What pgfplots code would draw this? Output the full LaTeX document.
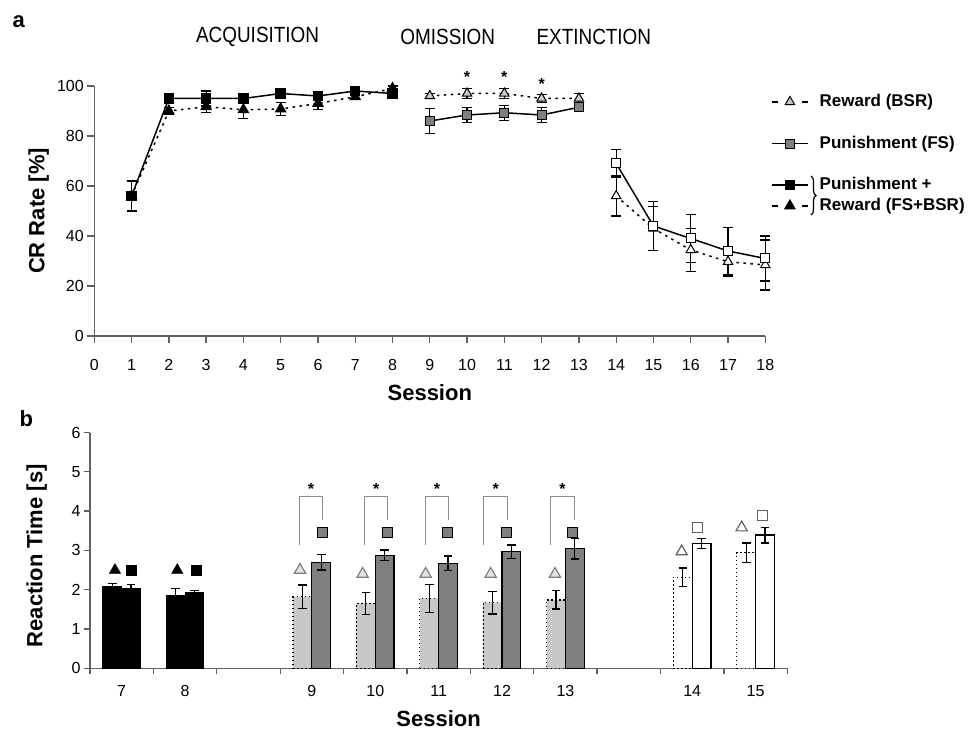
\documentclass[border=0pt]{standalone}
\usepackage{fontspec}
\setmainfont{Liberation Sans}
\newfontfamily\narrowfont[FakeStretch=0.86]{Liberation Sans}
\usepackage{pgfplots}
\pgfplotsset{compat=1.18}
\usetikzlibrary{decorations.pathreplacing}
\newcommand\tickfont{\fontsize{16}{18}\selectfont}
\newcommand\labfont{\bfseries\fontsize{22}{24}\selectfont}
\newcommand\legfont{\bfseries\fontsize{17}{19}\selectfont}
\definecolor{lgrey}{HTML}{C8C8C8}
\definecolor{dgrey}{HTML}{7F7F7F}
\definecolor{axgrey}{HTML}{606060}
\definecolor{brgrey}{HTML}{8C8C8C}
\pgfplotsset{
  myaxis/.style={scale only axis, axis lines=left,
    axis line style={-, line width=1.3pt, axgrey},
    tick align=outside, tick style={line width=1.3pt, axgrey}, major tick length=7pt,
    ticklabel style={font=\tickfont, black}, label style={font=\labfont, inner sep=0pt}, clip=false,
    /pgf/number format/assume math mode=true},
  dotline/.style={line width=1.5pt, dash pattern=on 2.5pt off 4.5pt},
  solline/.style={line width=1.5pt, solid},
  eb/.style={/pgfplots/error bars/y dir=both, /pgfplots/error bars/y explicit,
    /pgfplots/error bars/error bar style={solid, line width=1.2pt, black},
    /pgfplots/error bars/error mark options={rotate=90, solid, line width=1.2pt, black, mark size=#1}},
  eb/.default=5pt,
}
\begin{document}
\begin{tikzpicture}
\useasboundingbox (0,0) rectangle (971pt,731pt);
% ---------------- panel a ----------------
\begin{axis}[myaxis, at={(94.3pt,395pt)}, anchor=south west, width=671pt, height=250pt,
  xmin=0, xmax=18, ymin=0, ymax=100, xtick={0,...,18}, ytick={0,20,...,100},
  x tick label style={text height=11.5pt, text depth=0pt, yshift=-12pt},
  xlabel={Session}, ylabel={CR Rate [\%]},
  xlabel style={at={(axis description cs:0.5,-0.225)}, anchor=center},
  ylabel style={at={(axis description cs:-0.083,0.5)}, anchor=center},
  legend style={at={(axis description cs:1.004,0.977)}, anchor=north west, draw=none, fill=none,
    font=\legfont, row sep=4.8pt, nodes={inner sep=0pt, text height=12.5pt, text depth=3.5pt},
    /tikz/every odd column/.append style={column sep=11pt}},
  legend cell align=left,
  legend image code/.code={\draw[mark repeat=2,mark phase=2,#1] plot coordinates {(0pt,0pt) (18pt,0pt) (36pt,0pt)};},
]
\addlegendimage{black, line width=1.5pt, dash pattern=on 6pt off 24pt, mark=triangle*, mark size=5.5pt, mark options={solid, fill=lgrey, draw=black, line width=1pt}}
\addlegendentry{Reward (BSR)}
\addlegendimage{empty legend}\addlegendentry{}
\addlegendimage{black, solline, mark=square*, mark size=4.5pt, mark options={fill=dgrey, draw=black, line width=1pt}}
\addlegendentry{Punishment (FS)}
\addlegendimage{empty legend}\addlegendentry{}
\addlegendimage{black, solline, mark=square*, mark size=4.5pt, mark options={fill=black, draw=black}}
\addlegendentry{Punishment +}
\addlegendimage{black, line width=1.5pt, dash pattern=on 6pt off 24pt, mark=triangle*, mark size=5.5pt, mark options={solid, fill=black, draw=black}}
\addlegendentry{Reward (FS+BSR)}

% acquisition: FS+BSR triangles
\addplot[forget plot, black, dotline, mark=triangle*, mark size=5.5pt, mark options={solid, fill=black}, eb]
 coordinates {(1,56) +- (0,6) (2,90) +- (0,1.5) (3,91.7) +- (0,2.3) (4,90.5) +- (0,3.5) (5,90.8) +- (0,2.5) (6,93) +- (0,2.5) (7,95.7) +- (0,1) (8,99) +- (0,1)};
% acquisition: FS+BSR squares
\addplot[forget plot, black, solline, mark=square*, mark size=4.5pt, mark options={solid, fill=black}, eb]
 coordinates {(1,56) +- (0,6) (2,95) +- (0,1.5) (3,95) +- (0,3) (4,95) +- (0,1.5) (5,97) +- (0,1) (6,96) +- (0,1.5) (7,98) +- (0,1) (8,97) +- (0,1.5)};
% omission: BSR triangles
\addplot[forget plot, black, dotline, mark=triangle*, mark size=5.5pt, mark options={solid, fill=lgrey, draw=black, line width=1pt}, eb]
 coordinates {(9,96) +- (0,1) (10,97) +- (0,2) (11,97) +- (0,2) (12,95) +- (0,1.5) (13,95) +- (0,2)};
% omission: FS squares
\addplot[forget plot, black, solline, mark=square*, mark size=4.5pt, mark options={solid, fill=dgrey, draw=black, line width=1pt}, eb]
 coordinates {(9,86) +- (0,5) (10,88.4) +- (0,3) (11,89.3) +- (0,3) (12,88.4) +- (0,3) (13,91.5) +- (0,1.5)};
% extinction: triangles
\addplot[forget plot, black, dotline, mark=triangle*, mark size=5.5pt, mark options={solid, fill=white, draw=black, line width=1pt}, eb]
 coordinates {(14,56) +- (0,8) (15,43) +- (0,8.8) (16,34.4) +- (0,8.6) (17,29.7) +- (0,5.7) (18,28.4) +- (0,10)};
% extinction: squares
\addplot[forget plot, black, solline, mark=square*, mark size=4.5pt, mark options={solid, fill=white, draw=black, line width=1pt}, eb]
 coordinates {(14,69) +- (0,5.5) (15,44) +- (0,9.8) (16,39) +- (0,9.5) (17,34) +- (0,9.5) (18,31) +- (0,9)};

\node[font=\narrowfont\fontsize{22}{24}\selectfont] at (axis cs:4.38,119.5) {ACQUISITION};
\node[font=\narrowfont\fontsize{22}{24}\selectfont] at (axis cs:9.48,119.5) {OMISSION};
\node[font=\narrowfont\fontsize{22}{24}\selectfont] at (axis cs:13.4,119.5) {EXTINCTION};
\node[font=\bfseries\fontsize{16}{16}\selectfont] at (axis cs:10,103.5) {*};
\node[font=\bfseries\fontsize{16}{16}\selectfont] at (axis cs:11,103.5) {*};
\node[font=\bfseries\fontsize{16}{16}\selectfont] at (axis cs:12,100.8) {*};
\end{axis}
\draw[line width=1.2pt, decorate, decoration={brace, amplitude=5pt}] (811pt,555pt) -- (811pt,516pt);
\node[anchor=base west, font=\bfseries\fontsize{22}{24}\selectfont] at (9pt,703pt) {a};
\node[anchor=base west, font=\bfseries\fontsize{22}{24}\selectfont] at (16pt,304pt) {b};
% ---------------- panel b ----------------
\begin{axis}[myaxis, at={(90pt,62.7pt)}, anchor=south west, width=697.3pt, height=235.8pt,
  xmin=-0.5, xmax=10.5, ymin=0, ymax=6, major tick length=6pt,
  xtick={-0.5,0.5,...,10.5}, x tick label as interval, xticklabels={7,8,,9,10,11,12,13,,14,15},
  x tick label style={text height=11.5pt, text depth=0pt, yshift=-7pt},
  ytick={0,...,6},
  xlabel={Session}, ylabel={Reaction Time [s]},
  xlabel style={at={(axis description cs:0.5,-0.214)}, anchor=center},
  ylabel style={at={(axis description cs:-0.0764,0.4775)}, anchor=center},
]
\addplot[ybar, bar width=18.8pt, bar shift=-9.4pt, fill=black, draw=black, line width=1pt]
 coordinates {(0,2.08) (1,1.86)};
\addplot[ybar, bar width=18.8pt, bar shift=9.4pt, fill=black, draw=black, line width=1pt]
 coordinates {(0,2.03) (1,1.93)};
\addplot[ybar, bar width=18.8pt, bar shift=-9.4pt, fill=lgrey, draw=black, line width=1.2pt, dash pattern=on 1.5pt off 2.5pt]
 coordinates {(3,1.82) (4,1.65) (5,1.78) (6,1.67) (7,1.74)};
\addplot[ybar, bar width=18.8pt, bar shift=9.4pt, fill=dgrey, draw=black, line width=1.2pt]
 coordinates {(3,2.70) (4,2.88) (5,2.67) (6,2.97) (7,3.04)};
\addplot[ybar, bar width=18.8pt, bar shift=-9.4pt, fill=white, draw=black, line width=1.2pt, dash pattern=on 1.5pt off 2.5pt]
 coordinates {(9,2.32) (10,2.94)};
\addplot[ybar, bar width=18.8pt, bar shift=9.4pt, fill=white, draw=black, line width=1.2pt]
 coordinates {(9,3.18) (10,3.39)};
% error bars at the bar centres
\addplot[black, only marks, mark=*, mark size=0.01pt, eb=4.3pt]
 coordinates {(-0.148,2.08) +- (0,0.08) (0.852,1.86) +- (0,0.17) (2.852,1.82) +- (0,0.30) (3.852,1.65) +- (0,0.28) (4.852,1.78) +- (0,0.35) (5.852,1.67) +- (0,0.29) (6.852,1.74) +- (0,0.23) (8.852,2.32) +- (0,0.23) (9.852,2.94) +- (0,0.25)};
\addplot[black, only marks, mark=*, mark size=0.01pt, eb=4.3pt]
 coordinates {(0.148,2.03) +- (0,0.10) (1.148,1.93) +- (0,0.04) (3.148,2.70) +- (0,0.20) (4.148,2.88) +- (0,0.13) (5.148,2.67) +- (0,0.19) (6.148,2.97) +- (0,0.17) (7.148,3.04) +- (0,0.26) (9.148,3.18) +- (0,0.13) (10.148,3.39) +- (0,0.20)};
% symbols above bars
\addplot[only marks, mark=triangle*, mark size=6.5pt, mark options={fill=black, draw=black}]
 coordinates {(-0.106,2.5) (0.877,2.5)};
\addplot[only marks, mark=square*, mark size=5pt, mark options={fill=black, draw=black}]
 coordinates {(0.147,2.5) (1.183,2.5)};
\addplot[only marks, mark=triangle*, mark size=6.5pt, mark options={fill=lgrey!50, draw=dgrey, line width=1.2pt}]
 coordinates {(2.813,2.5) (3.80,2.4) (4.795,2.4) (5.82,2.4) (6.835,2.4)};
\addplot[only marks, mark=square*, mark size=5pt, mark options={fill=dgrey, draw=black, line width=1pt}]
 coordinates {(3.165,3.46) (4.19,3.46) (5.143,3.46) (6.073,3.46) (7.115,3.46)};
\addplot[only marks, mark=triangle*, mark size=6.5pt, mark options={fill=white, draw=axgrey, line width=1.2pt}]
 coordinates {(8.834,2.97) (9.78,3.58)};
\addplot[only marks, mark=square*, mark size=5pt, mark options={fill=white, draw=axgrey, line width=1.2pt}]
 coordinates {(9.087,3.58) (10.11,3.88)};
% significance brackets
\addplot[brgrey, line width=1pt, mark=none] coordinates {(2.80,3.14) (2.80,4.37) (3.17,4.37) (3.17,3.77)};
\addplot[brgrey, line width=1pt, mark=none] coordinates {(3.83,3.14) (3.83,4.37) (4.20,4.37) (4.20,3.77)};
\addplot[brgrey, line width=1pt, mark=none] coordinates {(4.796,3.14) (4.796,4.37) (5.15,4.37) (5.15,3.77)};
\addplot[brgrey, line width=1pt, mark=none] coordinates {(5.715,3.14) (5.715,4.37) (6.09,4.37) (6.09,3.77)};
\addplot[brgrey, line width=1pt, mark=none] coordinates {(6.77,3.14) (6.77,4.37) (7.14,4.37) (7.14,3.77)};
\node[font=\bfseries\fontsize{16}{16}\selectfont] at (axis cs:2.985,4.55) {*};
\node[font=\bfseries\fontsize{16}{16}\selectfont] at (axis cs:4.015,4.55) {*};
\node[font=\bfseries\fontsize{16}{16}\selectfont] at (axis cs:4.973,4.55) {*};
\node[font=\bfseries\fontsize{16}{16}\selectfont] at (axis cs:5.90,4.55) {*};
\node[font=\bfseries\fontsize{16}{16}\selectfont] at (axis cs:6.955,4.55) {*};
\end{axis}
\end{tikzpicture}
\end{document}
